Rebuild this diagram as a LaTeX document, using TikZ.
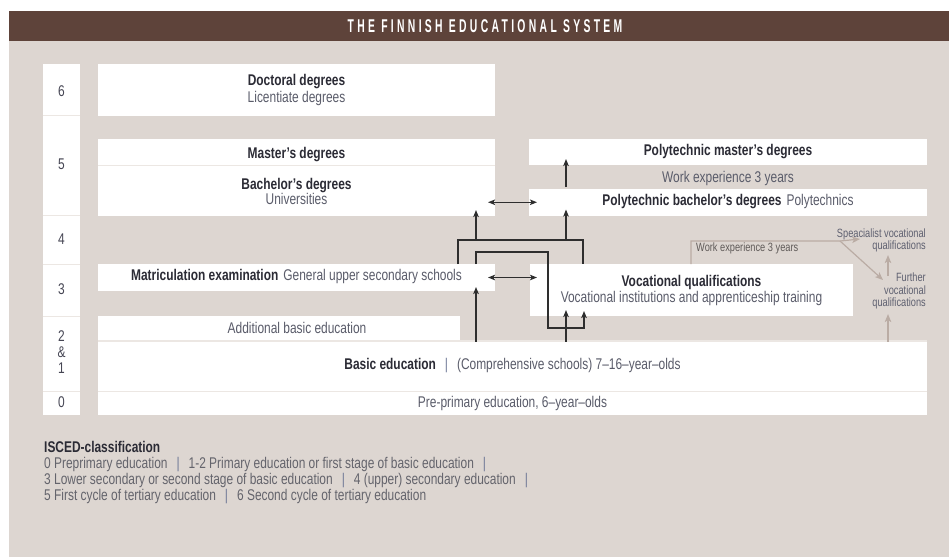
\documentclass[tikz,border=0pt]{standalone}
\usepackage{fontspec}
\setmainfont{Liberation Sans}[FakeStretch=0.77]
\newfontfamily\titlefont{Liberation Sans}[FakeStretch=0.56,LetterSpace=18]
\usetikzlibrary{arrows.meta}
\definecolor{barc}{RGB}{94,67,58}
\definecolor{beige}{RGB}{221,214,209}
\definecolor{sepc}{RGB}{236,231,227}
\definecolor{hdc}{RGB}{43,43,53}
\definecolor{rgc}{RGB}{90,92,106}
\definecolor{numc}{RGB}{70,70,84}
\definecolor{dk}{RGB}{46,46,46}
\definecolor{lt}{RGB}{186,172,164}
\definecolor{smc}{RGB}{94,96,112}
\definecolor{smc2}{RGB}{95,90,88}
\definecolor{legc}{RGB}{100,100,108}
\definecolor{barsep}{RGB}{110,120,150}
\newcommand\mkbox[5]{\node[wbox, minimum width={#4-#2}, minimum height={#5-#3}] (#1) at ({(#2+#4)/2},{(#3+#5)/2}) {};}
\newcommand\vbar{\hspace{9pt}{\color{barsep}|}\hspace{9pt}}
\tikzset{
  wbox/.style={fill=white, inner sep=0pt, outer sep=0pt, draw=none},
  hd/.style={font=\bfseries\fontsize{15.5}{17}\selectfont, text=hdc, inner sep=0pt, anchor=base},
  rg/.style={font=\fontsize{15.5}{17}\selectfont, text=rgc, inner sep=0pt, anchor=base},
  num/.style={font=\fontsize{15.5}{17}\selectfont, text=numc, inner sep=0pt, anchor=base},
  smtxt/.style={font=\fontsize{12}{12}\selectfont, text=smc, inner sep=0pt, align=right, anchor=north east},
  conn/.style={draw=dk, line width=1.2pt},
  dtip/.tip={Stealth[length=7pt,width=5.5pt,inset=1.5pt]},
  arr/.style={conn, -dtip},
  dbl/.style={conn, dtip-dtip},
  lconn/.style={draw=lt, line width=1.2pt},
  larr/.style={lconn, -{Stealth[length=8pt,width=6.5pt,inset=2pt]}},
}
\begin{document}
\begin{tikzpicture}[x=1pt,y=-1pt]
\useasboundingbox (0,0) rectangle (949,557);
\fill[white] (0,0) rectangle (949,557);
\fill[beige] (9,11) rectangle (949,557);
\fill[barc] (9,11) rectangle (949,41);
\node[font=\titlefont\bfseries\fontsize{18.5}{20}\selectfont, text=white, inner sep=0pt] (title) at (485,26) {THE FINNISH EDUCATIONAL SYSTEM};

% light separator backgrounds
\fill[sepc] (43,64) rectangle (80,415);
\fill[sepc] (98,139) rectangle (495,216);
\fill[sepc] (98,316) rectangle (460,342);
\fill[sepc] (98,340) rectangle (927,415);

% level column
\mkbox{c6}{43}{64}{80}{114.5}
\mkbox{c5}{43}{116}{80}{214.5}
\mkbox{c4}{43}{216}{80}{263.5}
\mkbox{c3}{43}{265}{80}{315.5}
\mkbox{c21}{43}{317}{80}{390.5}
\mkbox{c0}{43}{392}{80}{415}

% main boxes
\mkbox{doctoral}{98}{64}{495}{116}
\mkbox{masters}{98}{139}{495}{164.5}
\mkbox{bachelors}{98}{166}{495}{216}
\mkbox{polymaster}{529}{139}{927}{165}
\mkbox{polybach}{529}{189}{927}{215.5}
\mkbox{matric}{98}{264}{495}{291}
\mkbox{voc}{530}{264}{853}{316}
\mkbox{addbasic}{98}{316}{460}{340}
\mkbox{basic}{98}{341.5}{927}{390.5}
\mkbox{preprim}{98}{392}{927}{415}

% level numbers
\node[num] (n6) at (61.5,96.5) {6};
\node[num] (n5) at (61.5,169.3) {5};
\node[num] (n4) at (61.5,244) {4};
\node[num] (n3) at (61.5,294) {3};
\node[num] (n2) at (61.5,341.7) {2};
\node[num] (namp) at (61.5,357) {\&};
\node[num] (n1) at (61.5,373.3) {1};
\node[num] (n0) at (61.5,407.3) {0};

% box texts
\node[hd] (tdoc) at (296.5,85) {Doctoral degrees};
\node[rg] (tlic) at (296.5,102) {Licentiate degrees};
\node[hd] (tmas) at (296.5,158) {Master’s degrees};
\node[hd] (tbac) at (296.5,189) {Bachelor’s degrees};
\node[rg] (tuni) at (296.5,204.5) {Universities};
\node[hd] (tpm) at (728,155.7) {Polytechnic master’s degrees};
\node[rg] (twork) at (728,182) {Work experience 3 years};
\node[rg] (tpb) at (728,205.5) {{\bfseries\color{hdc}Polytechnic bachelor’s degrees}\hspace{5pt}Polytechnics};
\node[rg] (tmat) at (296.5,280.5) {{\bfseries\color{hdc}Matriculation examination}\hspace{5pt}General upper secondary schools};
\node[hd] (tvoc) at (691.5,286.5) {Vocational qualifications};
\node[rg] (tvocs) at (691.5,302) {Vocational institutions and apprenticeship training};
\node[rg] (tadd) at (297,333) {Additional basic education};
\node[rg] (tbasic) at (512.5,369.5) {{\bfseries\color{hdc}Basic education}\vbar(Comprehensive schools) 7–16–year–olds};
\node[rg] (tpre) at (512.5,407.5) {Pre-primary education, 6–year–olds};

% right-hand small texts
\node[font=\fontsize{12}{12}\selectfont, text=smc2, inner sep=0pt, anchor=base west] (twork2) at (696,251) {Work experience 3 years};
\node[smtxt] (spec) at (926,228.5) {Speacialist vocational\\qualifications};
\node[smtxt, font=\fontsize{12}{12.5}\selectfont] (further) at (926,273) {Further\\vocational\\qualifications};

% legend
\node[font=\fontsize{15.5}{16}\selectfont, text=legc, inner sep=0pt, align=left, anchor=north west] (legend) at (44,441.5)
 {{\bfseries\color{hdc}ISCED-classification}\\
  0 Preprimary education\vbar 1-2 Primary education or first stage of basic education\vbar\\
  3 Lower secondary or second stage of basic education\vbar 4 (upper) secondary education\vbar\\
  5 First cycle of tertiary education\vbar 6 Second cycle of tertiary education};

% helper coordinates
\coordinate (xa) at (476,0);
\coordinate (xb) at (566,0);
\coordinate (xc) at (458,0);
\coordinate (xd) at (583,0);
\coordinate (yb) at (520,240);
\coordinate (c1) at (548,252);
\coordinate (c2) at (584,328);

% dark connectors
\draw[dbl, shorten <=-7pt, shorten >=-8pt] (bachelors.east |- polybach.west) -- (polybach.west);
\draw[dbl, shorten <=-7pt, shorten >=-7pt] (matric.east) -- (matric.east -| voc.west);
\draw[arr, shorten >=-4pt] (basic.north -| xa) -- (matric.south -| xa);
\draw[arr, shorten >=-6pt] (basic.north -| xb) -- (voc.south -| xb);
\draw[conn] (matric.north -| xc) |- (yb) -| (voc.north -| xd);
\draw[arr, shorten >=-6pt] (xa |- yb) -- (bachelors.south -| xa);
\draw[arr, shorten >=-6pt] (xb |- yb) -- (polybach.south -| xb);
\draw[arr, shorten <=2pt, shorten >=-6pt] (polybach.north -| xb) -- (polymaster.south -| xb);
\draw[arr, shorten >=-5pt] (matric.north -| xa) |- (c1) |- (c2) -- (voc.south -| c2);

% light connectors
\coordinate (lv) at (691,0);
\coordinate (wk) at (840,241);
\coordinate (spectip) at (860,239);
\coordinate (furtip) at (883,280);
\coordinate (fx) at (888,0);
\draw[larr] (voc.north -| lv) |- (wk) -- (spectip);
\draw[larr] (wk) -- (furtip);
\draw[larr, shorten <=-3pt, shorten >=3pt] (further.north -| fx) -- (spec.south -| fx);
\draw[larr, shorten >=4.5pt] (basic.north -| fx) -- (further.south -| fx);
\end{tikzpicture}
\end{document}
